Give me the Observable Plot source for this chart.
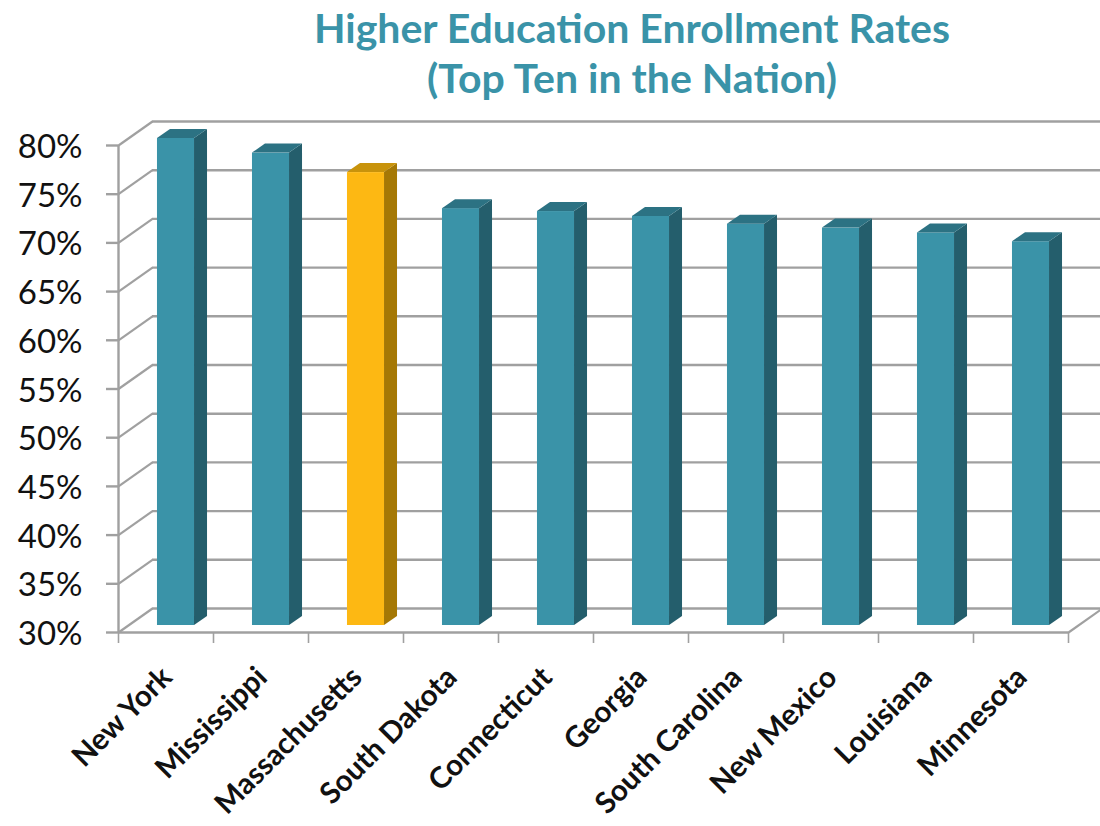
<!DOCTYPE html>
<html><head><meta charset="utf-8">
<script src="https://cdn.jsdelivr.net/npm/d3@7"></script>
<script src="https://cdn.jsdelivr.net/npm/@observablehq/plot@0.6"></script>
<style>
body{margin:0;background:#fff;width:1100px;height:826px;overflow:hidden;font-family:Lato,"Open Sans",sans-serif}
#title{height:110px;box-sizing:border-box;padding-top:3px;padding-left:164px;text-align:center;color:#3A93A8;font-weight:700;font-size:41px;line-height:50px}
#chart svg{display:block}
</style></head><body>
<div id="title">Higher Education Enrollment Rates<br>(Top Ten in the Nation)</div>
<div id="chart"></div>
<script>
// ---- data ----
const states = ["New York","Mississippi","Massachusetts","South Dakota","Connecticut","Georgia","South Carolina","New Mexico","Louisiana","Minnesota"];
const rates = [80.0, 78.5, 76.5, 72.8, 72.5, 72.0, 71.2, 70.8, 70.3, 69.4];
const highlighted = ["Massachusetts"];
const yTicks = [30,35,40,45,50,55,60,65,70,75,80];
const yTickLabels = ["30%","35%","40%","45%","50%","55%","60%","65%","70%","75%","80%"];

// ---- layout ----
const W = 1100, H = 716, mL = 118, mR = 32, mT = 35, mB = 194;
const yMin = 30, yMax = 80;
const kx = (W - mL - mR) / states.length;      // px per category
const ky = (H - mT - mB) / (yMax - yMin);       // px per percent
const wallDX = 34, wallDY = 24;                  // depth of the 3D box (px)
const barDX = 10, barDY = 7;                     // bar front offset into depth (px)
const barDepthX = 13, barDepthY = 9;             // bar depth (px)
const barHalf = 0.195;                           // half bar width (category units)
const dX = barDepthX / kx, dY = barDepthY / ky;

const colors = {
  normal: {front:"#3A93A8", side:"#245E6C", top:"#2C7283"},
  hi:     {front:"#FDB813", side:"#A57805", top:"#C8930B"}
};
const grid = "#A0A0A0";

const barData = states.map((s, i) => ({name: s, i, v: rates[i], kind: highlighted.includes(s) ? "hi" : "normal"}));
const sideFaces = barData.flatMap(d => [
  {name: d.name, kind: d.kind, x: d.i + 0.5 + barHalf, y1: yMin, y2: d.v},
  {name: d.name, kind: d.kind, x: d.i + 0.5 + barHalf + dX, y1: yMin + dY, y2: d.v + dY}
]);
const topFaces = barData.flatMap(d => {
  const xl = d.i + 0.5 - barHalf, xr = d.i + 0.5 + barHalf;
  return [
    {name: d.name, kind: d.kind, x: xl, y1: d.v, y2: d.v},
    {name: d.name, kind: d.kind, x: xl + dX, y1: d.v, y2: d.v + dY},
    {name: d.name, kind: d.kind, x: xr, y1: d.v, y2: d.v + dY},
    {name: d.name, kind: d.kind, x: xr + dX, y1: d.v + dY, y2: d.v + dY}
  ];
});
const xTicks = d3.range(0, states.length + 1);
const wx = wallDX / kx, wy = wallDY / ky;

const chart = Plot.plot({
  width: W, height: H,
  marginLeft: mL, marginRight: mR, marginTop: mT, marginBottom: mB,
  x: {type: "linear", domain: [0, states.length], axis: null},
  y: {type: "linear", domain: [yMin, yMax], axis: null},
  style: {fontFamily: "Lato, 'Open Sans', sans-serif", background: "#fff", overflow: "visible"},
  marks: [
    // back wall gridlines
    Plot.ruleY(yTicks, {y: d => d, x1: 0, x2: states.length, dx: wallDX, dy: -wallDY, stroke: grid, strokeWidth: 2.4}),
    // side wall diagonals
    Plot.link(yTicks, {x1: 0, y1: d => d, x2: wx, y2: d => d + wy, stroke: grid, strokeWidth: 2.2}),
    // floor right edge
    Plot.link([yMin], {x1: states.length, y1: d => d, x2: states.length + wx, y2: d => d + wy, stroke: grid, strokeWidth: 2.2}),
    // bars: front faces
    Plot.rectY(barData, {x1: d => d.i + 0.5 - barHalf, x2: d => d.i + 0.5 + barHalf, y1: yMin, y2: "v",
      dx: barDX, dy: -barDY, fill: d => colors[d.kind].front}),
    // bars: side faces
    Plot.areaY(sideFaces, {x: "x", y1: "y1", y2: "y2", z: "name", fill: d => colors[d.kind].side, dx: barDX, dy: -barDY, curve: "linear"}),
    // bars: top faces
    Plot.areaY(topFaces, {x: "x", y1: "y1", y2: "y2", z: "name", fill: d => colors[d.kind].top, dx: barDX, dy: -barDY, curve: "linear"}),
    // front vertical axis
    Plot.ruleX([0], {y1: yMin, y2: yMax, stroke: grid, strokeWidth: 2.4}),
    Plot.ruleY(yTicks, {y: d => d, x1: -12 / kx, x2: 0, stroke: grid, strokeWidth: 2.4}),
    // floor front edge
    Plot.ruleY([yMin], {x1: 0, x2: states.length, stroke: grid, strokeWidth: 2.4}),
    Plot.ruleX(xTicks, {x: d => d, y1: yMin, y2: yMin - 11 / ky, stroke: grid, strokeWidth: 1.6}),
    // y tick labels
    Plot.text(yTicks, {x: 0, y: d => d, text: (d, i) => yTickLabels[i], textAnchor: "end", dx: -36, dy: 2,
      fontSize: 33, fill: "#111"}),
    // x labels
    Plot.text(barData, {x: d => d.i + 0.5, y: yMin, text: "name", rotate: -45, textAnchor: "end",
      dx: 1, dy: 40, fontSize: 29.5, fontWeight: "bold", fill: "#111"})
  ]
});
document.getElementById("chart").appendChild(chart);
</script>
</body></html>
